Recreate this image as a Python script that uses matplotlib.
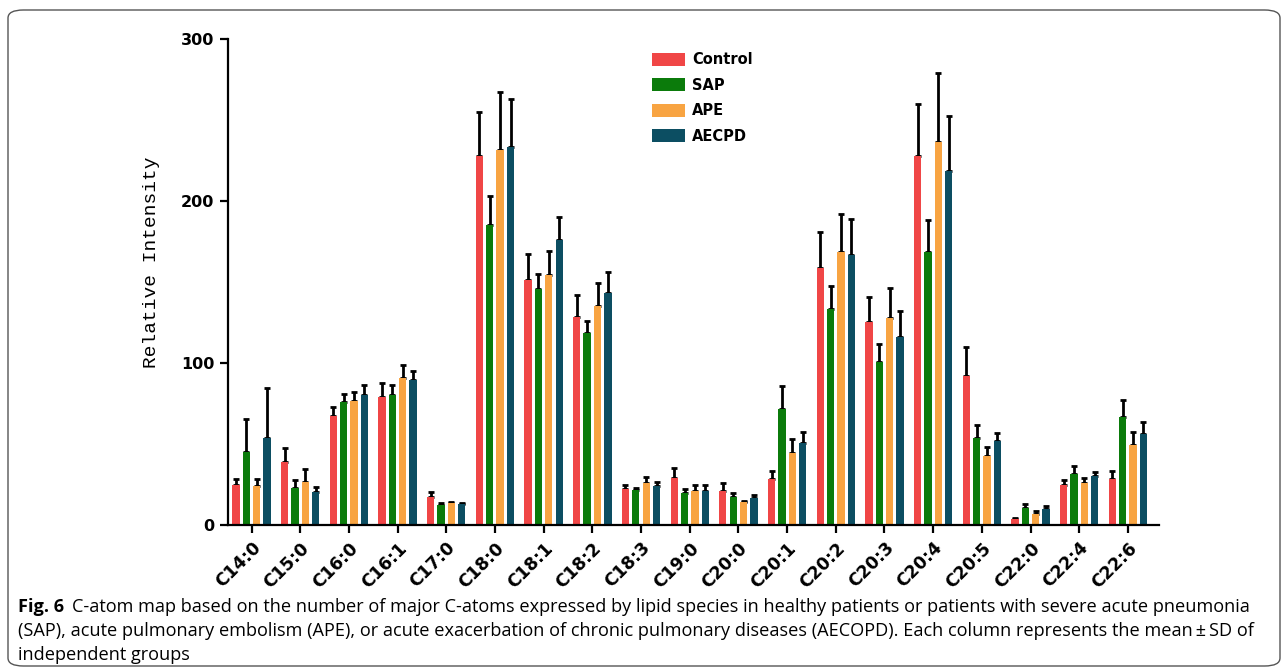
import numpy as np
import matplotlib
matplotlib.use("Agg")
import matplotlib.pyplot as plt
from matplotlib.patches import FancyBboxPatch

# ------------------------------------------------------------
# Data (mean and upper SD bound)
# ------------------------------------------------------------
lipids = ["C14:0", "C15:0", "C16:0", "C16:1", "C17:0", "C18:0", "C18:1",
          "C18:2", "C18:3", "C19:0", "C20:0", "C20:1", "C20:2", "C20:3",
          "C20:4", "C20:5", "C22:0", "C22:4", "C22:6"]

groups = ["Control", "SAP", "APE", "AECPD"]
colors = ["#F04646", "#0B7B0B", "#F8A442", "#0C4E62"]

control = [24.7, 38.7, 67.3, 79.2, 17.5, 227.8, 151.3, 128.2, 22.0, 28.8,
           21.2, 28.4, 158.4, 125.1, 228.0, 92.0, 3.7, 24.5, 28.2]
sap = [45.3, 22.6, 75.7, 80.5, 12.3, 185.2, 145.5, 118.7, 21.6, 19.5,
       17.1, 71.8, 133.1, 100.4, 168.3, 53.9, 10.5, 31.3, 66.9]
ape = [24.3, 26.7, 76.5, 90.9, 13.4, 231.5, 154.3, 135.4, 25.7, 21.0,
       14.0, 44.2, 168.3, 128.0, 236.4, 42.8, 6.8, 26.1, 49.2]
aecpd = [53.5, 20.4, 80.5, 89.5, 13.0, 233.3, 176.1, 143.4, 24.0, 21.0,
         16.7, 50.4, 166.7, 116.3, 218.5, 51.6, 9.7, 30.0, 56.4]

# upper end of the error bars
control_top = [28.2, 47.7, 73.0, 87.4, 20.6, 255.1, 167.3, 142.0, 24.7, 35.0,
               25.7, 33.3, 180.9, 140.9, 260.1, 110.1, 4.5, 28.0, 33.3]
sap_top = [65.2, 27.8, 80.7, 86.6, 13.4, 203.3, 155.0, 125.9, 23.0, 22.0,
           20.0, 85.8, 147.7, 111.5, 188.3, 61.5, 13.0, 36.7, 77.4]
ape_top = [28.6, 34.4, 82.3, 99.0, 14.4, 267.0, 169.3, 149.2, 29.4, 24.5,
           14.8, 53.3, 192.2, 146.5, 278.8, 48.4, 8.8, 28.8, 57.2]
aecpd_top = [84.4, 23.3, 86.2, 95.0, 13.4, 263.0, 190.1, 156.0, 26.3, 24.5,
             18.7, 57.6, 188.7, 132.1, 252.7, 57.0, 11.7, 32.7, 63.4]

means = [control, sap, ape, aecpd]
tops = [control_top, sap_top, ape_top, aecpd_top]

caption_1 = ("C-atom map based on the number of major C-atoms expressed by lipid species "
             "in healthy patients or patients with severe acute pneumonia")
caption_2 = ("(SAP), acute pulmonary embolism (APE), or acute exacerbation of chronic "
             "pulmonary diseases (AECOPD). Each column represents the mean\u2009\u00b1\u2009SD of")
caption_3 = "independent groups"

# ------------------------------------------------------------
# Figure
# ------------------------------------------------------------
fig = plt.figure(figsize=(12.84, 6.70), dpi=100)
ax = fig.add_axes([0.1773, 0.2164, 0.7254, 0.7254])

x = np.arange(len(lipids))
step = 0.213
width = 0.15

for i, name in enumerate(groups):
    pos = x + (i - 1.5) * step
    m = np.array(means[i])
    err = np.array(tops[i]) - m
    ax.bar(pos, m, width, color=colors[i], label=name, zorder=2)
    ax.errorbar(pos, m, yerr=[np.zeros_like(err), err], fmt="none",
                ecolor="black", elinewidth=2, capsize=2.5, capthick=2, zorder=1)

ax.set_xlim(-0.49, 18.64)
ax.set_ylim(0, 300)
ax.set_yticks([0, 100, 200, 300])
ax.set_xticks(x)
ax.set_xticklabels(lipids, rotation=45, ha="right", rotation_mode="anchor",
                   fontsize=12.5, fontweight="bold")
for lab in ax.get_yticklabels():
    lab.set_fontweight("bold")
    lab.set_fontsize(11.5)

for s in ["top", "right"]:
    ax.spines[s].set_visible(False)
for s in ["left", "bottom"]:
    ax.spines[s].set_linewidth(1.6)
ax.tick_params(axis="both", width=1.6, length=6, direction="out")
ax.tick_params(axis="x", pad=4)

ax.set_ylabel("Relative Intensity", family="Liberation Mono", fontsize=14)
ax.yaxis.set_label_coords(-0.073, 0.54)

leg = ax.legend(loc="upper left", bbox_to_anchor=(0.442, 1.0), frameon=False,
                prop={"weight": "bold", "size": 10.5}, handlelength=2.2,
                handleheight=1.0, labelspacing=0.72, handletextpad=0.5)

# caption
fig.text(18 / 1284, 1 - 607 / 670, "Fig. 6", fontsize=13.1, fontweight="bold",
         family="Open Sans", va="center")
fig.text(72 / 1284, 1 - 607 / 670, caption_1, fontsize=13.1,
         family="Open Sans", va="center")
fig.text(18 / 1284, 1 - 631 / 670, caption_2, fontsize=13.1,
         family="Open Sans", va="center")
fig.text(18 / 1284, 1 - 655 / 670, caption_3, fontsize=13.1,
         family="Open Sans", va="center")

# rounded border around the whole figure
box = FancyBboxPatch((8 / 1284, 4 / 670), 1272 / 1284, 656 / 670,
                     boxstyle="round,pad=0,rounding_size=0.012",
                     transform=fig.transFigure, fill=False,
                     edgecolor="#555555", linewidth=1.0)
fig.patches.append(box)

fig.savefig("out.png", dpi=100)
